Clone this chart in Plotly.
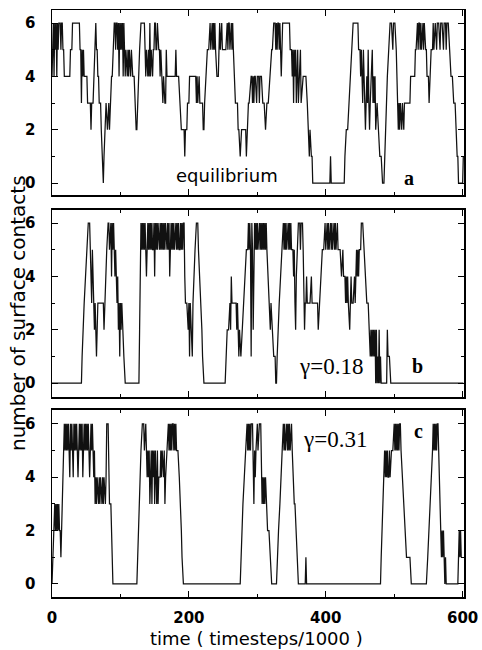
import plotly.graph_objects as go

# ---------------- data ----------------
time_a = [0,1,2,3,4,5,6,7,8,9,10,12,13,14,15,16,17,18,20,22,24,26,27,29,30,35,40,41,42,43,44,45,46,47,49,51,52,54,56,57,58,60,61,62,63,64,65,66,67,68,69,71,72,73,75,76,77,79,81,82,83,84,85,86,87,88,89,91,92,93,94,95,96,97,98,99,100,101,102,103,104,105,106,107,108,109,110,111,112,113,114,115,116,117,118,120,121,122,123,124,125,127,128,130,133,135,136,137,138,139,140,141,142,143,144,145,146,147,148,149,150,151,152,153,154,155,156,157,158,159,160,161,162,163,164,165,166,167,168,169,172,175,178,180,181,182,185,187,188,189,191,192,193,194,195,197,198,200,201,204,206,208,210,211,212,213,214,215,216,217,219,220,221,222,223,225,227,229,231,232,233,234,235,236,237,238,239,240,241,243,244,245,246,247,248,249,250,252,254,256,257,258,259,260,261,262,263,264,265,266,267,268,269,271,272,273,275,276,277,279,281,283,284,285,286,287,288,290,291,292,293,294,295,296,297,299,300,302,303,304,306,308,310,312,314,316,318,319,321,322,324,326,327,328,329,330,331,332,333,335,336,337,340,344,347,348,350,351,352,353,354,355,356,357,358,359,360,361,362,363,364,366,367,369,371,373,375,376,377,378,379,380,381,406,407,408,427,428,430,432,434,436,438,440,444,447,448,450,451,452,453,454,455,456,457,458,459,460,461,462,463,464,465,466,467,468,469,470,471,472,473,474,475,477,479,481,483,485,486,488,490,492,494,496,498,499,500,501,503,504,505,506,507,508,509,510,511,512,513,514,515,517,519,521,523,524,526,528,530,531,532,534,535,536,537,538,539,540,541,542,543,544,546,547,548,550,551,552,553,554,556,557,558,559,560,562,563,565,567,568,570,572,573,575,576,577,579,581,583,585,587,589,590,591,592,593,594,598,600,601]
contacts_a = [4,5,6,4,6,5,6,4,6,5,6,6,5,6,6,5,5,4,4,4,4,4,5,5,6,6,6,5,5,3,5,4,5,4,4,4,3,3,3,2,3,3,4,5,6,6,5,5,4,4,3,3,2,1,0,1,2,3,2,3,3,2,3,3,4,4,5,6,6,5,6,6,5,6,4,6,5,6,5,6,4,6,5,4,5,4,4,5,4,5,4,4,5,4,4,4,3,3,2,2,3,4,5,6,6,6,5,4,5,4,4,5,4,6,4,5,4,4,5,5,6,6,5,5,6,5,5,5,4,5,4,4,3,4,3,3,3,5,4,4,4,4,4,4,5,4,4,3,3,2,2,2,2,1,2,2,3,3,4,4,4,4,4,3,4,3,4,4,3,3,3,3,2,2,3,4,5,5,6,5,6,6,5,6,5,6,5,4,4,4,5,6,5,6,6,5,5,5,5,6,5,6,6,5,6,6,5,6,5,4,4,3,3,3,2,2,1,2,2,2,2,2,1,2,2,3,3,4,4,4,3,4,3,4,4,3,4,4,3,4,4,3,3,2,3,3,4,4,5,5,6,6,5,6,5,6,6,5,6,4,5,6,6,6,6,5,5,4,5,3,5,4,5,3,4,5,3,4,4,5,3,4,4,4,4,3,2,1,2,1,1,1,0,0,1,0,0,1,2,2,3,4,5,6,6,6,5,5,4,5,4,3,5,4,3,2,3,4,3,5,3,2,3,4,4,5,3,4,3,4,2,3,3,2,1,1,0,0,1,3,4,5,6,6,5,6,6,6,5,4,3,2,3,2,3,2,2,3,2,2,3,3,3,3,3,4,4,4,4,5,5,6,5,6,6,5,6,5,6,6,5,6,5,5,4,4,3,4,4,5,5,6,5,6,6,5,6,6,5,6,6,5,6,6,5,6,6,5,4,4,3,3,2,2,1,1,0,0,0,1]

time_b = [0,43,44,45,47,49,51,53,55,56,57,58,59,60,61,62,63,64,65,66,67,70,73,75,76,77,78,80,82,83,84,85,86,87,88,89,90,91,92,93,94,95,96,97,98,99,100,101,102,103,105,107,127,128,129,130,131,132,133,134,135,136,137,138,139,140,141,142,143,144,145,146,147,148,149,150,151,152,153,154,155,156,157,158,159,160,161,162,163,164,165,166,167,168,169,170,171,172,173,174,175,176,177,178,179,180,181,182,183,184,185,186,187,188,189,190,191,192,193,194,195,197,199,200,201,202,203,204,205,206,207,209,211,213,214,216,218,219,220,222,253,254,256,258,260,261,262,263,265,267,269,270,271,272,273,274,275,276,278,280,282,284,286,287,288,289,290,291,292,293,294,295,296,297,298,299,300,301,303,304,305,306,307,308,309,310,311,312,313,314,316,318,319,320,321,322,324,326,327,328,329,330,332,334,336,338,339,340,341,342,343,344,345,346,347,348,349,350,352,353,354,355,356,357,358,360,362,363,364,366,367,368,369,370,371,372,373,375,377,379,380,382,384,386,388,389,390,391,393,395,397,399,400,401,402,403,404,405,406,407,408,409,410,411,412,413,414,415,416,417,418,419,421,423,425,426,428,429,430,431,432,433,435,436,437,438,440,442,443,444,445,446,447,448,449,451,452,454,456,458,460,462,464,465,466,467,468,469,470,471,472,473,474,475,476,477,478,479,480,481,489,490,491,493,495,601]
contacts_b = [0,0,1,2,3,4,5,6,6,5,5,3,5,4,3,2,3,2,1,2,3,3,3,3,2,3,4,5,6,6,5,6,6,4,6,5,6,5,4,5,4,3,4,2,3,1,3,2,3,2,1,0,0,2,4,6,5,6,5,6,5,6,5,4,5,6,5,6,5,6,5,6,5,5,6,4,6,5,6,5,6,5,5,6,5,6,5,6,5,6,5,6,5,5,6,5,6,4,5,6,5,6,5,6,5,6,6,5,6,5,6,5,5,6,5,6,5,6,6,4,3,3,2,3,1,3,2,2,1,3,4,5,6,6,5,4,3,2,1,0,0,1,2,2,3,2,4,3,3,3,3,2,3,2,1,2,1,1,2,3,4,5,5,6,5,6,5,1,6,5,2,5,6,5,6,5,6,5,6,5,6,5,6,5,6,5,6,5,6,5,4,3,2,3,2,2,1,1,0,0,1,2,3,4,5,6,5,6,5,6,5,6,6,5,6,5,6,5,5,4,5,3,2,4,5,6,6,5,6,6,5,4,2,3,3,4,3,3,3,4,3,3,3,3,3,2,3,3,4,5,5,6,5,6,6,5,6,5,6,6,5,6,5,6,6,5,6,5,6,6,5,5,5,4,5,4,4,3,4,3,4,3,2,3,4,3,3,4,3,4,5,4,5,4,5,5,6,6,5,4,3,3,2,1,2,1,2,1,2,1,2,0,2,0,1,0,2,0,1,0,0,2,1,1,0,0]

time_c = [0,1,2,3,4,5,6,7,8,9,10,11,12,13,14,15,16,18,19,20,21,22,23,24,25,26,27,28,29,30,31,32,33,34,35,36,37,38,39,40,41,42,43,44,45,46,47,48,49,50,51,52,53,54,55,56,57,58,59,60,61,62,63,64,65,66,67,68,69,70,71,72,73,74,75,76,77,78,79,80,82,83,84,86,87,88,89,124,125,126,128,129,130,132,134,135,136,137,138,139,140,141,142,143,144,145,146,147,148,149,150,151,152,153,154,155,156,158,159,160,161,162,163,164,165,166,167,168,170,171,172,173,174,175,176,177,178,179,180,181,182,184,186,188,189,190,192,275,276,277,279,281,283,285,286,287,288,289,290,291,293,294,295,296,297,298,300,301,302,303,305,306,307,308,309,310,311,312,313,315,317,319,321,328,329,331,333,335,337,338,339,340,341,342,343,344,345,346,347,348,349,350,351,352,354,355,357,359,360,370,371,372,480,481,482,483,485,486,487,488,489,490,491,492,493,494,496,498,500,501,502,503,504,505,506,507,508,509,510,512,514,516,518,521,523,525,547,549,551,553,554,556,557,558,559,560,561,562,563,564,565,566,567,568,569,570,571,572,573,574,575,576,593,594,595,596,597,598]
contacts_c = [0,1,2,2,3,2,3,2,3,2,3,2,2,1,2,4,5,6,5,6,5,6,5,6,5,4,6,5,6,5,4,6,5,6,5,6,5,4,5,6,5,6,5,6,4,5,6,5,6,5,6,5,6,5,4,5,6,5,6,5,4,5,3,4,3,4,3,3,4,3,4,3,3,4,3,4,3,3,4,6,6,5,3,3,2,1,0,0,1,2,3,4,5,6,6,5,6,6,5,4,5,4,5,3,4,5,3,5,4,5,3,5,4,3,5,3,4,4,5,4,5,4,4,5,3,4,5,5,6,5,6,5,6,5,6,6,5,6,5,6,5,5,4,3,2,1,0,0,1,2,3,4,5,6,5,6,5,6,5,6,6,5,3,5,4,5,6,5,6,6,6,4,3,4,3,4,3,4,3,2,2,1,0,0,1,2,3,4,5,6,5,6,5,6,6,5,6,5,6,5,6,6,5,4,3,3,2,1,0,0,1,0,0,1,2,3,4,5,4,5,4,5,4,4,5,4,5,5,6,5,6,5,6,5,6,5,6,6,5,4,3,2,1,1,1,0,0,1,2,3,4,5,6,5,6,5,6,5,6,6,5,4,3,2,1,2,1,2,1,0,1,0,0,1,2,1,2,1]

panel_series = [(time_a, contacts_a), (time_b, contacts_b), (time_c, contacts_c)]
panel_letters = ["a", "b", "c"]
panel_notes = ["equilibrium", "γ=0.18", "γ=0.31"]
x_ticks_major = 200
x_ticks_minor = 100
y_ticks_major = 2
y_ticks_minor = 1

# ---------------- layout geometry ----------------
W, H = 482, 650
L, T = 52, 10            # plot-area left / top (pixels)
PR, PB = 464, 597        # plot-area right / bottom (pixels)
R, B = W - PR, H - PB
y_domains = [[0.6848, 1.0], [0.3407, 0.6593], [0.0, 0.3186]]
y_ranges = [[-0.45, 6.49], [-0.52, 6.49], [-0.49, 6.52]]
x_range = [0, 602]

fig = go.Figure()
for i, (t, n) in enumerate(panel_series):
    sfx = "" if i == 0 else str(i + 1)
    fig.add_trace(go.Scatter(x=t, y=n, mode="lines",
                             line=dict(color="#111111", width=1.25),
                             xaxis="x" + sfx, yaxis="y" + sfx,
                             showlegend=False, hoverinfo="skip"))

tickfont = dict(family="DejaVu Sans", size=15, color="black", weight="bold")
layout = dict(width=W, height=H, margin=dict(l=L, r=R, t=T, b=B, autoexpand=False),
              paper_bgcolor="white", plot_bgcolor="white", showlegend=False)
for i in range(3):
    sfx = "" if i == 0 else str(i + 1)
    layout["xaxis" + sfx] = dict(
        domain=[0, 1], anchor="y" + sfx, range=x_range,
        showline=True, linecolor="black", linewidth=1.5, mirror="ticks",
        ticks="inside", ticklen=6, tickwidth=1, tickcolor="black",
        tick0=0, dtick=x_ticks_major,
        minor=dict(ticks="inside", ticklen=3, tickcolor="black", dtick=x_ticks_minor, tick0=0),
        showgrid=False, zeroline=False, showticklabels=(i == 2),
        tickfont=tickfont, ticklabelstandoff=6, automargin=False)
    layout["yaxis" + sfx] = dict(
        domain=y_domains[i], anchor="x" + sfx, range=y_ranges[i],
        showline=True, linecolor="black", linewidth=1.5, mirror="ticks",
        ticks="inside", ticklen=6, tickwidth=1, tickcolor="black",
        tick0=0, dtick=y_ticks_major,
        minor=dict(ticks="inside", ticklen=3, tickcolor="black", dtick=y_ticks_minor, tick0=0),
        showgrid=False, zeroline=False, tickfont=tickfont, ticklabelstandoff=12,
        automargin=False)
fig.update_layout(**layout)

def px_to_paper_x(px):
    return (px - L) / (PR - L)

def px_to_paper_y(py):
    return (PB - py) / (PB - T)

def note(text, x, y, xref, yref, font, **kw):
    return dict(text=text, x=x, y=y, xref=xref, yref=yref, showarrow=False,
                xanchor="center", yanchor="middle", font=font, **kw)

sans = "DejaVu Sans"
serif = "Liberation Serif"
annos = [
    note("number of surface contacts", px_to_paper_x(18), px_to_paper_y(313), "paper", "paper",
         dict(family=sans, size=20, color="black"), textangle=-90),
    note("time ( timesteps/1000 )", px_to_paper_x(256), px_to_paper_y(638), "paper", "paper",
         dict(family=sans, size=18, color="black")),
    note(panel_notes[0], 255, 0.3, "x", "y", dict(family=sans, size=18, color="black")),
    note(panel_notes[1], 408, 0.64, "x2", "y2", dict(family=serif, size=23, color="black")),
    note(panel_notes[2], 414, 5.4, "x3", "y3", dict(family=serif, size=23, color="black")),
    note(panel_letters[0], 522, 0.19, "x", "y", dict(family=serif, size=20, color="black", weight="bold")),
    note(panel_letters[1], 534, 0.64, "x2", "y2", dict(family=serif, size=20, color="black", weight="bold")),
    note(panel_letters[2], 535, 5.74, "x3", "y3", dict(family=serif, size=20, color="black", weight="bold")),
]
fig.update_layout(annotations=annos)

# remove the default page margin so the figure fills the window exactly
page_fix = ("document.documentElement.style.overflow='hidden';"
            "document.body.style.margin='0';document.body.style.overflow='hidden';")
fig.write_html("out.html", post_script=page_fix,
               config={"displayModeBar": False, "staticPlot": True})
